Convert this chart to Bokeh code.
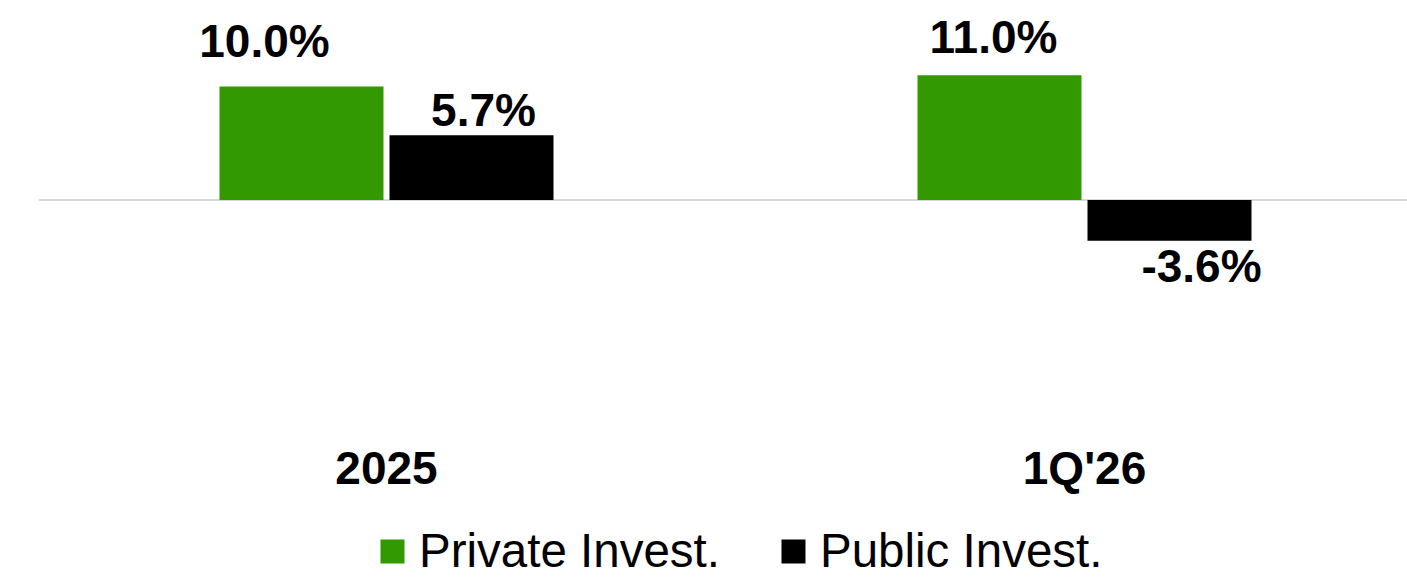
from bokeh.plotting import figure
from bokeh.layouts import column
from bokeh.models import Range1d, FixedTicker, Span, ColumnDataSource, Legend, LegendItem
from bokeh.transform import dodge
from bokeh.core.properties import value
from bokeh.embed import file_html
from bokeh.resources import INLINE

# ---------------- data ----------------
categories = ["2025", "1Q'26"]
series_names = ["Private Invest.", "Public Invest."]
private_invest = [10.0, 11.0]
public_invest = [5.7, -3.6]

# ---------------- styles / layout ----------------
GREEN = "#339900"
BLACK = "#000000"
FONT = "Liberation Sans"

W = 1407
H_MAIN, H_LEG = 520, 58
FRAME_LEFT = 38          # px from figure left to plot frame
FRAME_BOTTOM = 428       # px from figure top to frame bottom
PX_PER_UNIT_Y = 11.35
ZERO_PX = 199.5          # px from figure top to the zero line
PX_PER_CAT = 698
FIRST_CAT_PX = 386
BAR_OFFSET = 85 / PX_PER_CAT
BAR_WIDTH = 164 / PX_PER_CAT
LEGEND_X = 339           # legend left edge, px from frame left

# label nudges in screen px (per series, per category)
label_dx = [[-37, -6], [12, 32]]
label_dy = [[-46, -38], [-25, 25]]

x_start = -(FIRST_CAT_PX - FRAME_LEFT) / PX_PER_CAT
x_end = x_start + (W - FRAME_LEFT) / PX_PER_CAT
y_end = ZERO_PX / PX_PER_UNIT_Y
y_start = -(FRAME_BOTTOM - ZERO_PX) / PX_PER_UNIT_Y

p = figure(width=W, height=H_MAIN, output_backend="svg", toolbar_location=None,
           x_range=Range1d(x_start, x_end), y_range=Range1d(y_start, y_end),
           y_axis_location=None, min_border_left=FRAME_LEFT, min_border_right=0,
           min_border_top=0, min_border_bottom=H_MAIN - FRAME_BOTTOM)
p.outline_line_color = None
p.grid.visible = False
p.background_fill_color = "white"
p.border_fill_color = "white"

zero = Span(location=0, dimension="width", line_color="#d9d9d9", line_width=2, level="underlay")
p.add_layout(zero)

idx = list(range(len(categories)))
colors = [GREEN, BLACK]
for s, (vals, sign) in enumerate([(private_invest, -1), (public_invest, 1)]):
    src = ColumnDataSource(dict(
        x=idx, top=vals,
        label=[f"{v:.1f}%" for v in vals],
        dx=label_dx[s], dy=label_dy[s],
    ))
    xpos = dodge("x", sign * BAR_OFFSET, range=p.x_range)
    p.vbar(x=xpos, top="top", bottom=0, width=BAR_WIDTH, source=src,
           fill_color=colors[s], line_color=None)
    p.text(x=xpos, y="top", text="label", source=src, x_offset="dx", y_offset="dy",
           text_align="center", text_baseline="alphabetic", text_color="black",
           text_font=value(FONT), text_font_style="bold", text_font_size="46px")

ax = p.xaxis[0]
ax.ticker = FixedTicker(ticks=idx)
ax.major_label_overrides = {i: c for i, c in zip(idx, categories)}
ax.axis_line_color = None
ax.major_tick_line_color = None
ax.minor_tick_line_color = None
ax.major_tick_out = 0
ax.major_tick_in = 0
ax.major_label_standoff = 13
ax.major_label_text_font = FONT
ax.major_label_text_font_style = "bold"
ax.major_label_text_font_size = "46px"
ax.major_label_text_color = "black"

# ---------------- legend strip ----------------
pl = figure(width=W, height=H_LEG, output_backend="svg", toolbar_location=None,
            x_range=Range1d(0, 1), y_range=Range1d(0, 1),
            x_axis_location=None, y_axis_location=None,
            min_border_left=FRAME_LEFT, min_border_right=0,
            min_border_top=0, min_border_bottom=0)
pl.outline_line_color = None
pl.grid.visible = False
pl.background_fill_color = "white"
pl.border_fill_color = "white"

# legend key renderers (one off-screen zero-height bar each, only used for the legend swatch)
proxies = [pl.vbar(x=[5], top=[0], width=0.1, fill_color=c, line_color=None) for c in colors]
legend = Legend(items=[LegendItem(label=n, renderers=[r]) for n, r in zip(series_names, proxies)],
                orientation="horizontal", location=(LEGEND_X, 0), padding=0, margin=0,
                spacing=58, glyph_width=30, glyph_height=30, label_standoff=12,
                label_text_font=FONT, label_text_font_size="47.5px", label_text_color="black",
                border_line_color=None, background_fill_alpha=0)
pl.add_layout(legend)

open("out.html", "w").write(file_html(column(p, pl, spacing=0), INLINE))
